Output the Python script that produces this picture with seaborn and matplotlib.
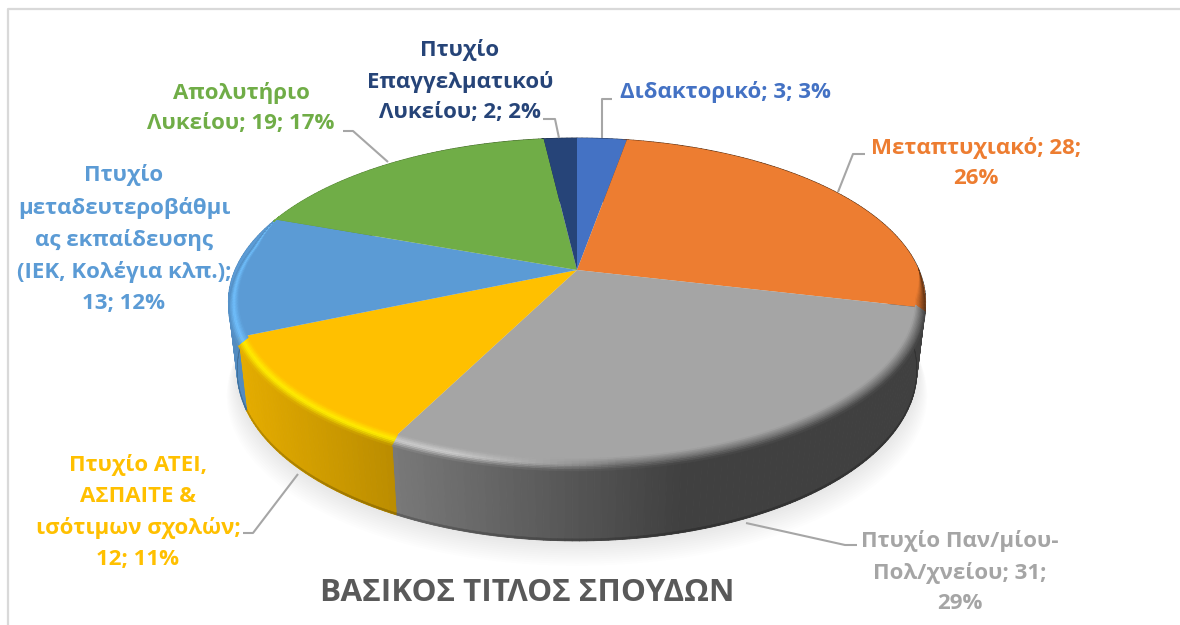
import numpy as np
import matplotlib
matplotlib.use("Agg")
import matplotlib.pyplot as plt
import matplotlib.colors as mcolors
from matplotlib.collections import PolyCollection
from matplotlib.transforms import Transform
import seaborn as sns

# ---- data
categories = ["Διδακτορικό", "Μεταπτυχιακό", "Πτυχίο Παν/μίου-Πολ/χνείου",
              "Πτυχίο ΑΤΕΙ, ΑΣΠΑΙΤΕ & ισότιμων σχολών",
              "Πτυχίο μεταδευτεροβάθμιας εκπαίδευσης (ΙΕΚ, Κολέγια κλπ.)",
              "Απολυτήριο Λυκείου", "Πτυχίο Επαγγελματικού Λυκείου"]
values = [3, 28, 31, 12, 13, 19, 2]
percents = [3, 26, 29, 11, 12, 17, 2]
slice_colors = ["#4472C4", "#ED7D31", "#A5A5A5", "#FFC000", "#5B9BD5", "#70AD47", "#264478"]
title_text = "ΒΑΣΙΚΟΣ ΤΙΤΛΟΣ ΣΠΟΥΔΩΝ"
label_lines = [
    "Διδακτορικό; 3; 3%",
    "Μεταπτυχιακό; 28;\n26%",
    "Πτυχίο Παν/μίου-\nΠολ/χνείου; 31;\n29%",
    "Πτυχίο ΑΤΕΙ,\nΑΣΠΑΙΤΕ &\nισότιμων σχολών;\n12; 11%",
    "Πτυχίο\nμεταδευτεροβάθμι\nας εκπαίδευσης\n(ΙΕΚ, Κολέγια κλπ.);\n13; 12%",
    "Απολυτήριο\nΛυκείου; 19; 17%",
    "Πτυχίο\nΕπαγγελματικού\nΛυκείου; 2; 2%",
]
label_centers = [(725, 92), (976, 163), (960, 572), (138, 512), (124, 239), (241, 108), (460, 81)]
leaders = [
    [(602, 138), (602, 99), (612, 99)],
    [(838, 192), (853, 154), (865, 154)],
    [(746, 523), (845, 545), (857, 545)],
    [(298, 474), (253, 533), (243, 533)],
    None,
    [(388, 162), (353, 131), (343, 131)],
    [(559, 138), (555, 119), (543, 119)],
]

# ---- view geometry of the tilted disc (pixels)
CX, CY, RX, RY, K = 577.0, 270.0, 342.0, 157.4, 0.193
BOT_SX, BOT_SY, BOT_DY = 0.975, 1.04, 68.0


def project(u, v, sx=1.0, sy=1.0, dy=0.0):
    d = 1 + K * v
    return CX + sx * RX * u / d, CY + dy - sy * RY * v / d


class Tilt(Transform):
    input_dims = output_dims = 2
    is_separable = False
    has_inverse = False

    def transform_non_affine(self, xy):
        xy = np.asarray(xy, float)
        x, y = project(xy[:, 0], xy[:, 1])
        return np.column_stack([x, y])


sns.set_theme(style="white")
plt.rcParams["font.family"] = ["Open Sans", "DejaVu Sans"]
palette = sns.color_palette(slice_colors)

fig = plt.figure(figsize=(11.8, 6.25), dpi=100, facecolor="white")
ax = fig.add_axes([0, 0, 1, 1])
wedges, _ = ax.pie(values, colors=palette, startangle=90, counterclock=False, radius=1,
                   wedgeprops=dict(linewidth=0))
ax.set_aspect("auto")
ax.set_xlim(0, 1180)
ax.set_ylim(625, 0)
ax.axis("off")
tilt = Tilt()
for w in wedges:
    w.set_transform(tilt + ax.transData)
    w.set_zorder(4)

# frame
ax.plot([8, 8, 1180], [625, 9, 9], color="#d9d9d9", lw=1.6, zorder=0)

# soft shadow
theta = np.radians(np.linspace(0, 360, 361))
n_sh = 12
for j in range(1, n_sh + 1):
    f = j / n_sh
    sx, sy = project(np.cos(theta), np.sin(theta), BOT_SX + 0.03 * f, BOT_SY, BOT_DY + 25 * f)
    ax.fill(sx, sy, color="black", alpha=0.009, lw=0, zorder=1)


def shade(x):
    return np.interp(x, [235, 395, 680, 920], [0.9, 0.73, 0.39, 0.39])


def hl_weight(x):
    return np.interp(x, [235, 450, 620], [1, 1, 0])


rim_polys, rim_cols, edge_polys, edge_cols, bev_polys, bev_cols = [], [], [], [], [], []
for i, (w, col) in enumerate(zip(wedges, palette)):
    base = np.array(mcolors.to_rgb(col))
    next_base = np.array(mcolors.to_rgb(palette[(i + 1) % len(palette)]))
    a1, a2 = w.theta1, w.theta2
    angs = np.radians(np.arange(a1, a2 + 1.0, 1.0).tolist() + [a2])
    for t0, t1 in zip(angs[:-1], angs[1:]):
        u = np.cos([t0, t1])
        v = np.sin([t0, t1])
        xt, yt = project(u, v)
        xb, yb = project(u, v, BOT_SX, BOT_SY, BOT_DY)
        xm = xt.mean()
        c = base * shade(xm)
        # near the right silhouette the wall of the next slice is what shows
        near_end = np.degrees(t0) - a1 < 30
        wall = next_base * shade(xm) if (u.mean() > 0.9 and v.mean() < 0.08 and near_end) else c
        rim_polys.append([(xt[0], yt[0]), (xt[1], yt[1]), (xb[1], yb[1]), (xb[0], yb[0])])
        rim_cols.append(wall)
        edge_polys.append([(xb[0], yb[0] - 2), (xb[1], yb[1] - 2), (xb[1], yb[1]), (xb[0], yb[0])])
        edge_cols.append(wall * 0.8)
        # bevel between top face and rim, fading out towards the far side
        top = 0.35 if u.mean() < 0 else 0.0
        g = np.clip((top - v) / 0.18, 0, 1)
        if g.max() == 0:
            continue
        hl = (1 - hl_weight(xm)) * (base + c) / 2 + hl_weight(xm) * np.clip(base * 1.25, 0, 1)
        ts = np.linspace(0, 1, 9)

        def ring(b):
            r = 1 - 0.028 * (1 - b) * g
            px, py = project(r * u, r * v)
            return px, py + 6 * b * g

        for b0, b1 in zip(ts[:-1], ts[1:]):
            p0x, p0y = ring(b0)
            p1x, p1y = ring(b1)
            bm = (b0 + b1) / 2
            if bm < 0.5:
                cc = base + (hl - base) * (bm / 0.5)
            else:
                cc = hl + (c - hl) * ((bm - 0.5) / 0.5)
            bev_polys.append([(p0x[0], p0y[0]), (p0x[1], p0y[1]), (p1x[1], p1y[1]), (p1x[0], p1y[0])])
            bev_cols.append(np.clip(cc, 0, 1))

ax.add_collection(PolyCollection(rim_polys, facecolors=rim_cols, edgecolors=rim_cols, linewidths=0.7, zorder=2))
ax.add_collection(PolyCollection(edge_polys, facecolors=edge_cols, edgecolors=edge_cols, linewidths=0.3, zorder=3))
ax.add_collection(PolyCollection(bev_polys, facecolors=bev_cols, edgecolors=bev_cols, linewidths=0.3, zorder=5))

# leader lines
for pts in leaders:
    if pts:
        xs, ys = zip(*pts)
        ax.plot(xs, ys, color="#a6a6a6", lw=1.5, zorder=6, solid_capstyle="butt")

# labels
for txt, (x, y), col in zip(label_lines, label_centers, palette):
    ax.text(x, y, txt, ha="center", va="center", color=col, fontsize=16,
            fontweight="bold", linespacing=1.6, zorder=7)
ax.text(527, 593, title_text, ha="center", va="center", color="#595959",
        fontsize=22.6, fontweight="bold", zorder=7)

fig.savefig("out.png", dpi=100, facecolor="white")
